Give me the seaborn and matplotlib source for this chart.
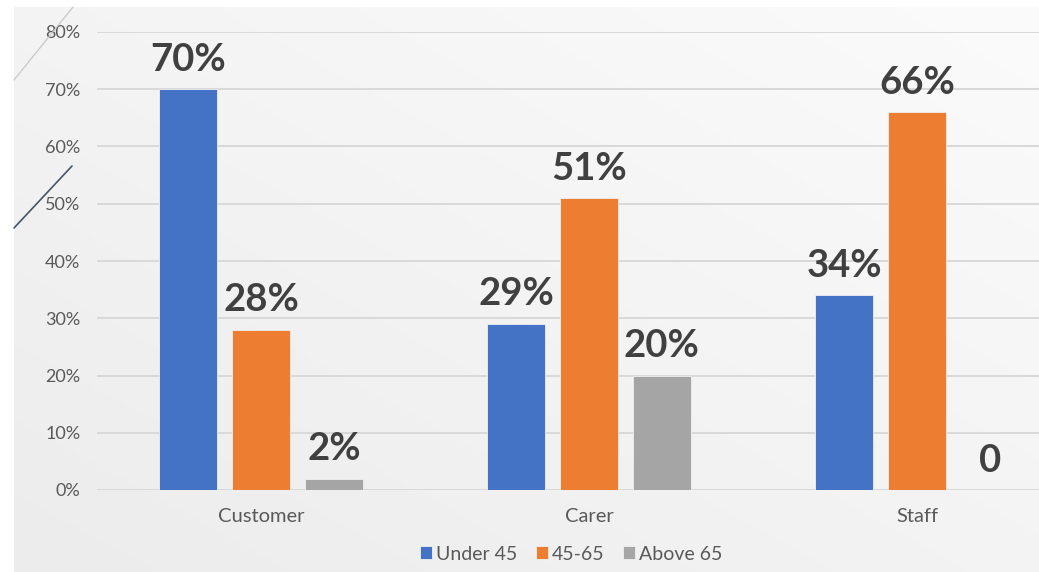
import numpy as np
import pandas as pd
import matplotlib
matplotlib.use("Agg")
import matplotlib.pyplot as plt
from matplotlib.lines import Line2D
from matplotlib.ticker import FuncFormatter
import seaborn as sns

# Survey respondents by age band, per respondent group (percent)
groups = ["Customer", "Carer", "Staff"]
age_bands = ["Under 45", "45-65", "Above 65"]
under_45 = [70, 29, 34]
age_45_65 = [28, 51, 66]
above_65 = [2, 20, 0]
palette = ["#4472C4", "#ED7D31", "#A5A5A5"]

df = pd.DataFrame({
    "group": groups * 3,
    "band": [b for b in age_bands for _ in groups],
    "value": under_45 + age_45_65 + above_65,
})

sns.set_theme(style="white")
plt.rcParams["font.family"] = ["Lato", "DejaVu Sans"]

W, H = 1039, 572
fig = plt.figure(figsize=(W / 100, H / 100), dpi=100)
fig.patch.set_facecolor("white")

# soft grey slide panel with a faint diagonal gradient
bg = fig.add_axes([14 / W, 0, 1 - 14 / W, (H - 7) / H], zorder=0)
gx, gy = np.meshgrid(np.linspace(0, 1, 300), np.linspace(0, 1, 200))
grad = 0.5 * gx + 0.5 * gy
bg.imshow(grad, cmap=matplotlib.colors.LinearSegmentedColormap.from_list(
    "panel", ["#ececec", "#fbfbfb"]), origin="lower", aspect="auto",
    extent=[0, 1, 0, 1])
bg.set_axis_off()

# thin decorative strokes at the left edge
fig.add_artist(Line2D([14 / W, 73 / W], [1 - 80 / H, 1 - 7 / H],
                      color="#c8c8c8", lw=0.9, transform=fig.transFigure))
fig.add_artist(Line2D([14 / W, 72 / W], [1 - 228 / H, 1 - 166 / H],
                      color="#44546a", lw=1.2, transform=fig.transFigure))

ax = fig.add_axes([97 / W, 82 / H, 984 / W, 458 / H], zorder=1)
ax.set_facecolor("none")

sns.barplot(data=df, x="group", y="value", hue="band", order=groups,
            hue_order=age_bands, palette=palette, width=0.667, gap=0.2,
            saturation=1, linewidth=0.6, edgecolor="#f0f0f0", ax=ax,
            legend=True)

ax.set_xlim(-0.5, 2.5)
ax.set_ylim(0, 80)
ax.set_yticks(np.arange(0, 81, 10))
ax.yaxis.set_major_formatter(FuncFormatter(lambda v, p: f"{v:.0f}%"))
ax.grid(axis="y", color="#d9d9d9", lw=1.4)
ax.set_axisbelow(True)
for s in ax.spines.values():
    s.set_visible(False)
ax.set_xlabel("")
ax.set_ylabel("")
ax.tick_params(axis="y", length=0, pad=12, labelsize=13, labelcolor="#595959")
ax.tick_params(axis="x", length=0, pad=13, labelsize=14.5, labelcolor="#595959")

for cont, vals in zip(ax.containers, [under_45, age_45_65, above_65]):
    labels = [f"{v}%" if v else "0" for v in vals]
    ax.bar_label(cont, labels=labels, padding=9, fontsize=27.5,
                 fontweight="bold", color="#404040")

handles, labels = ax.get_legend_handles_labels()
ax.get_legend().remove()
fig.legend(handles, labels, loc="center", bbox_to_anchor=(571 / W, 1 - 554 / H),
           ncol=3, frameon=False, fontsize=14, handlelength=0.62,
           handleheight=0.62, handletextpad=0.2, columnspacing=0.95,
           labelcolor="#595959")

fig.savefig("out.png", dpi=100, facecolor="white")
